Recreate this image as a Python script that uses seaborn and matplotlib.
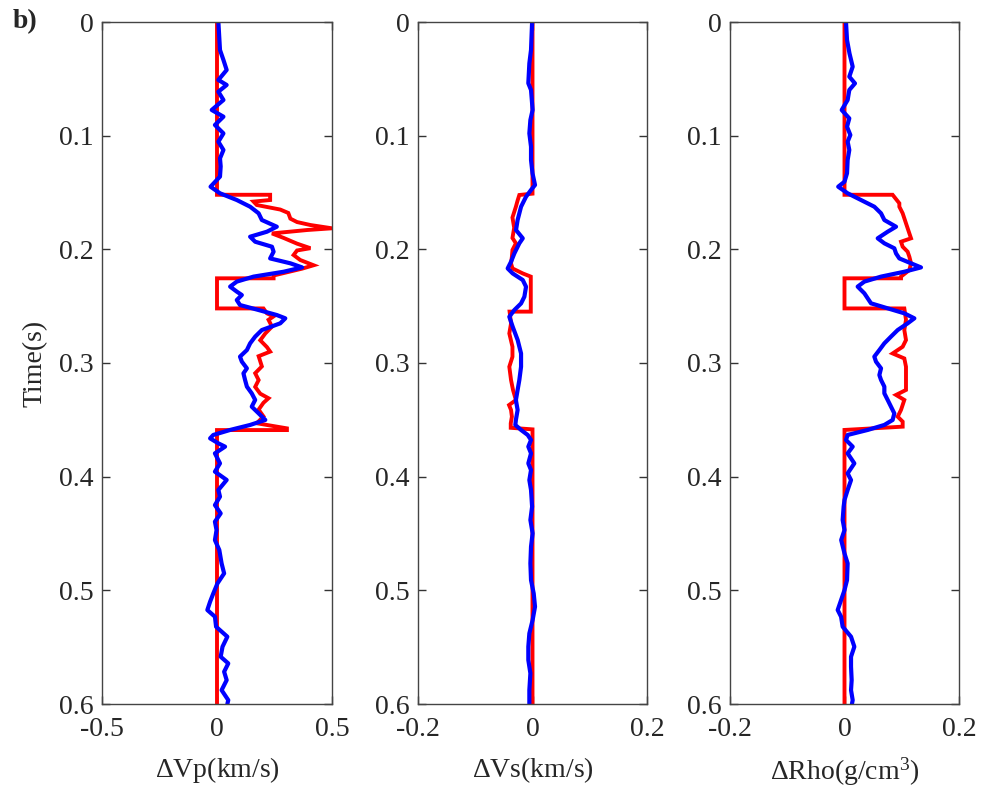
import matplotlib
matplotlib.use("Agg")
import matplotlib.pyplot as plt
import seaborn as sns
import pandas as pd

# ---------------- data: (time in s, perturbation) ----------------
# P-wave velocity perturbation, true model (red)
vp_true_t = [0, 0.152, 0.152, 0.1566, 0.158, 0.161, 0.165, 0.168, 0.173, 0.176, 0.1786,
             0.1815, 0.183, 0.186, 0.190, 0.195, 0.199, 0.201, 0.205, 0.2094, 0.214,
             0.217, 0.223, 0.2255, 0.2255, 0.252, 0.252, 0.2563, 0.259, 0.262, 0.268,
             0.274, 0.280, 0.286, 0.290, 0.294, 0.303, 0.309, 0.315, 0.321, 0.327,
             0.331, 0.335, 0.341, 0.347, 0.353, 0.3575, 0.359, 0.359, 0.6]
vp_true = [0, 0, 0.231, 0.231, 0.159, 0.173, 0.275, 0.31, 0.319, 0.348, 0.406,
           0.50, 0.392, 0.239, 0.29, 0.348, 0.406, 0.348, 0.333, 0.362, 0.42,
           0.37, 0.246, 0.246, 0, 0, 0.202, 0.217, 0.246, 0.224, 0.239,
           0.21, 0.188, 0.217, 0.231, 0.181, 0.195, 0.166, 0.181, 0.166, 0.188,
           0.224, 0.202, 0.181, 0.202, 0.173, 0.304, 0.304, 0, 0]

# P-wave velocity perturbation, inverted (blue)
vp_inv_t = [0.0, 0.0246, 0.0334, 0.0422, 0.051, 0.0554, 0.0613, 0.0686, 0.0774, 0.0833,
            0.0906, 0.098, 0.1053, 0.1126, 0.12, 0.127, 0.136, 0.1449, 0.1507, 0.1566,
            0.1625, 0.1683, 0.1742, 0.1801, 0.1845, 0.1889, 0.1933, 0.1977, 0.2021, 0.208,
            0.2123, 0.2159, 0.2197, 0.224, 0.2284, 0.2328, 0.2372, 0.2402, 0.2446, 0.249,
            0.2534, 0.2578, 0.2607, 0.2651, 0.271, 0.2768, 0.2827, 0.2886, 0.2944, 0.2988,
            0.3047, 0.3091, 0.3149, 0.3208, 0.3267, 0.3325, 0.3384, 0.3443, 0.3501, 0.3545,
            0.3589, 0.3633, 0.3663, 0.3707, 0.3736, 0.3795, 0.3883, 0.3956, 0.4029, 0.4117,
            0.4176, 0.425, 0.4323, 0.4396, 0.447, 0.4558, 0.4645, 0.4763, 0.4851, 0.4939,
            0.5027, 0.51, 0.5173, 0.5232, 0.532, 0.5408, 0.5496, 0.5584, 0.5643, 0.5716,
            0.579, 0.5878, 0.5966, 0.6]
vp_inv = [0.006, 0.013, 0.028, 0.042, 0.006, 0.042, 0.006, 0.028, -0.023, 0.028,
          -0.009, 0.028, 0.006, 0.028, 0.013, 0.016, 0.013, -0.028, 0.013, 0.086,
          0.144, 0.181, 0.195, 0.26, 0.217, 0.144, 0.166, 0.239, 0.246, 0.231,
          0.319, 0.37, 0.29, 0.159, 0.086, 0.057, 0.086, 0.108, 0.086, 0.10,
          0.181, 0.26, 0.297, 0.275, 0.195, 0.166, 0.144, 0.13, 0.10, 0.108,
          0.13, 0.115, 0.122, 0.13, 0.151, 0.166, 0.151, 0.181, 0.21, 0.144,
          0.057, -0.016, -0.03, 0.006, 0.035, -0.009, 0.013, -0.009, 0.042, 0.006,
          0.013, -0.009, 0.016, -0.009, -0.002, -0.009, 0.01, 0.02, 0.031, 0.002,
          -0.016, -0.03, -0.042, -0.009, -0.004, 0.045, 0.024, 0.016, 0.049, 0.031,
          0.042, 0.02, 0.049, 0.045]

# S-wave velocity perturbation, true model (red)
vs_true_t = [0, 0.151, 0.1522, 0.157, 0.1625, 0.172, 0.181, 0.19, 0.1947, 0.2006,
             0.2065, 0.2124, 0.2168, 0.2212, 0.224, 0.2548, 0.2548, 0.2652, 0.274, 0.2857,
             0.2945, 0.3033, 0.315, 0.3238, 0.3326, 0.337, 0.3413, 0.3472, 0.3531, 0.357,
             0.3584, 0.6]
vs_true = [0, 0, -0.023, -0.026, -0.029, -0.035, -0.032, -0.035, -0.029, -0.035,
           -0.036, -0.0375, -0.035, -0.017, -0.003, -0.003, -0.040, -0.0375, -0.0405, -0.035,
           -0.035, -0.0405, -0.0375, -0.034, -0.029, -0.041, -0.0375, -0.036, -0.038, -0.038,
           0, 0]

# S-wave velocity perturbation, inverted (blue)
vs_inv_t = [0.0, 0.0246, 0.0364, 0.0539, 0.0598, 0.0774, 0.0862, 0.098, 0.1097, 0.1214,
            0.1331, 0.1434, 0.1478, 0.1537, 0.1625, 0.1742, 0.183, 0.1903, 0.1947, 0.2036,
            0.2109, 0.2168, 0.2212, 0.227, 0.2329, 0.2417, 0.2476, 0.2534, 0.2593, 0.2681,
            0.2798, 0.2916, 0.3033, 0.315, 0.3237, 0.3326, 0.3413, 0.3501, 0.3545, 0.3589,
            0.3633, 0.3677, 0.3736, 0.3795, 0.3883, 0.3942, 0.403, 0.4117, 0.4264, 0.4381,
            0.4499, 0.4616, 0.4763, 0.491, 0.5027, 0.5144, 0.5262, 0.5379, 0.5496, 0.5613,
            0.573, 0.5878, 0.5966, 0.6]
vs_inv = [-0.0007, -0.0026, -0.0055, -0.0073, -0.0026, 0.0002, -0.0037, -0.0055, -0.0026, -0.0026,
          0.0, 0.0044, -0.0026, -0.0113, -0.02, -0.026, -0.0288, -0.017, -0.023, -0.0317,
          -0.0375, -0.0434, -0.0346, -0.017, -0.0113, -0.0142, -0.02, -0.0317, -0.0405, -0.0346,
          -0.0259, -0.02, -0.02, -0.023, -0.026, -0.029, -0.026, -0.029, -0.030, -0.02,
          -0.0084, -0.0026, -0.0073, -0.0026, -0.0073, -0.0026, -0.0055, -0.0026, -0.0007, -0.0037,
          0.0002, -0.0026, -0.0037, -0.0026, 0.0021, 0.0044, 0.0002, -0.0055, -0.0073, -0.0073,
          -0.0037, -0.0055, -0.0055, -0.0055]

# Density perturbation, true model (red)
rho_true_t = [0, 0.152, 0.152, 0.1595, 0.1625, 0.1683, 0.1771, 0.186, 0.1903, 0.1933,
              0.1977, 0.2021, 0.2065, 0.2123, 0.2182, 0.224, 0.2255, 0.2255, 0.252, 0.252,
              0.262, 0.271, 0.2798, 0.2857, 0.2916, 0.296, 0.3033, 0.3149, 0.3237, 0.3281,
              0.3325, 0.3413, 0.3472, 0.3516, 0.356, 0.3589, 0.6]
rho_true = [0, 0, 0.084, 0.0958, 0.0958, 0.1016, 0.1074, 0.1133, 0.1162, 0.0987,
            0.1016, 0.1103, 0.1133, 0.1162, 0.1133, 0.0987, 0.0987, 0, 0, 0.1045,
            0.1074, 0.1045, 0.1074, 0.1016, 0.0841, 0.1045, 0.1074, 0.1074, 0.1074, 0.09,
            0.1045, 0.0987, 0.0929, 0.1016, 0.1016, 0, 0]

# Density perturbation, inverted (blue)
rho_inv_t = [0.0, 0.0158, 0.0276, 0.0393, 0.0481, 0.054, 0.0598, 0.0686, 0.0774, 0.0848,
             0.0921, 0.0994, 0.1053, 0.1126, 0.1214, 0.1331, 0.1405, 0.1449, 0.1507, 0.1566,
             0.1625, 0.1683, 0.1742, 0.1801, 0.1845, 0.1903, 0.1947, 0.1991, 0.2036, 0.208,
             0.2123, 0.2159, 0.2197, 0.224, 0.2284, 0.2328, 0.2387, 0.2431, 0.2475, 0.2519,
             0.2563, 0.2607, 0.2651, 0.271, 0.2768, 0.2827, 0.2886, 0.2944, 0.2988, 0.3047,
             0.3106, 0.3149, 0.3208, 0.3267, 0.3325, 0.3384, 0.3443, 0.3501, 0.3545, 0.3589,
             0.3633, 0.3677, 0.3736, 0.3795, 0.3883, 0.3971, 0.403, 0.4117, 0.4205, 0.4264,
             0.4381, 0.447, 0.4557, 0.4675, 0.4763, 0.491, 0.4998, 0.5086, 0.5173, 0.5232,
             0.532, 0.5408, 0.5496, 0.5584, 0.5672, 0.579, 0.5878, 0.5966, 0.6]
rho_inv = [0.0026, 0.0044, 0.0087, 0.0143, 0.0084, 0.0183, 0.0084, 0.0055, -0.0049, 0.0084,
           0.0044, 0.0102, 0.0055, 0.0084, 0.0055, 0.0044, 0.0, -0.011, 0.0055, 0.0288,
           0.0521, 0.0638, 0.0696, 0.09, 0.0754, 0.058, 0.0696, 0.087, 0.09, 0.0958,
           0.1162, 0.1336, 0.1045, 0.0638, 0.0347, 0.023, 0.0347, 0.0405, 0.0463, 0.0754,
           0.1045, 0.122, 0.1103, 0.0929, 0.0812, 0.0696, 0.0609, 0.0521, 0.055, 0.0638,
           0.0609, 0.0638, 0.0696, 0.0696, 0.0754, 0.0812, 0.087, 0.0841, 0.0696, 0.0405,
           0.0055, 0.0026, 0.0143, 0.0055, 0.0172, 0.0055, 0.0114, 0.0055, 0.0, -0.0015,
           -0.0032, 0.0, -0.0058, 0.0, 0.0055, 0.0044, 0.0, -0.006, -0.0119, -0.006,
           -0.0032, 0.0114, 0.0172, 0.0114, 0.0114, 0.0125, 0.0114, 0.0143, 0.013]

x_labels = [r"$\Delta$Vp(km/s)", r"$\Delta$Vs(km/s)", r"$\Delta$Rho(g/cm$^3$)"]
x_limits = [(-0.5, 0.5), (-0.2, 0.2), (-0.2, 0.2)]
x_ticks = [[-0.5, 0, 0.5], [-0.2, 0, 0.2], [-0.2, 0, 0.2]]
x_ticklabels = [["-0.5", "0", "0.5"], ["-0.2", "0", "0.2"], ["-0.2", "0", "0.2"]]
y_ticks = [0, 0.1, 0.2, 0.3, 0.4, 0.5, 0.6]
y_ticklabels = ["0", "0.1", "0.2", "0.3", "0.4", "0.5", "0.6"]

# ---------------- styling ----------------
sns.set_style("white")
plt.rcParams["font.family"] = ["Liberation Serif", "DejaVu Serif"]
plt.rcParams["mathtext.fontset"] = "custom"
plt.rcParams["mathtext.rm"] = "Liberation Serif"
plt.rcParams["mathtext.it"] = "Liberation Serif:italic"
plt.rcParams["mathtext.bf"] = "Liberation Serif:bold"

FS = 20
fig = plt.figure(figsize=(9.85, 7.96), dpi=100)

lefts = [102, 418, 730]
widths = [230, 229, 229]
bottom = 92 / 796
height = 682 / 796

curves = [
    (vp_true_t, vp_true, vp_inv_t, vp_inv),
    (vs_true_t, vs_true, vs_inv_t, vs_inv),
    (rho_true_t, rho_true, rho_inv_t, rho_inv),
]

for i, (tt, vt, ti, vi) in enumerate(curves):
    ax = fig.add_axes([lefts[i] / 985, bottom, widths[i] / 985, height])
    df_true = pd.DataFrame({"t": tt, "v": vt})
    df_inv = pd.DataFrame({"t": ti, "v": vi})
    sns.lineplot(data=df_true, x="v", y="t", sort=False, estimator=None,
                 color="#ff0000", lw=2.8, ax=ax, solid_joinstyle="miter")
    sns.lineplot(data=df_inv, x="v", y="t", sort=False, estimator=None,
                 color="#0000ff", lw=3.0, ax=ax, solid_joinstyle="round",
                 solid_capstyle="round")
    ax.set_xlim(*x_limits[i])
    ax.set_ylim(0.6, 0)
    ax.set_xticks(x_ticks[i])
    ax.set_xticklabels(x_ticklabels[i], fontsize=FS)
    ax.set_yticks(y_ticks)
    ax.set_yticklabels(y_ticklabels, fontsize=FS)
    ax.tick_params(axis="both", direction="in", length=6, width=1.0,
                   color="#333333", top=True, right=True, left=True, bottom=True)
    ax.tick_params(axis="y", pad=6)
    ax.tick_params(axis="x", pad=9)
    for s in ax.spines.values():
        s.set_color("#444444")
        s.set_linewidth(1.0)
    ax.set_xlabel(x_labels[i], fontsize=FS, labelpad=10)
    ax.set_ylabel("Time(s)" if i == 0 else "", fontsize=FS, labelpad=8)

fig.text(13 / 985, 1 - 22 / 796, "b)", fontsize=FS, fontweight="bold",
         ha="left", va="center")

fig.savefig("out.png", dpi=100, facecolor="white")
